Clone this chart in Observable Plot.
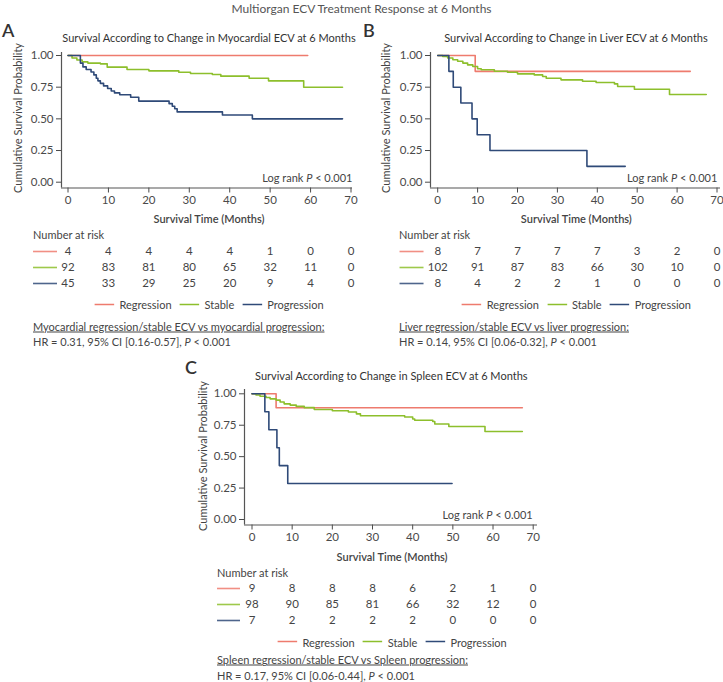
<!DOCTYPE html>
<html><head><meta charset="utf-8">
<script src="https://cdn.jsdelivr.net/npm/d3@7"></script>
<script src="https://cdn.jsdelivr.net/npm/@observablehq/plot@0.6"></script>
<style>
body{margin:0;background:#fff;}
#page{position:relative;width:723px;height:682px;font-family:Lato,"Noto Sans",sans-serif;color:#444;overflow:hidden;background:#fff;}
.t{position:absolute;white-space:nowrap;line-height:1;}
</style></head><body><div id="page"></div>
<script>
// ---------- data ----------
const groups = ["Regression", "Stable", "Progression"];
const groupColors = ["#ee7b6e", "#8dbf2c", "#2f4a78"];
const xTicks = [0, 10, 20, 30, 40, 50, 60, 70];
const yTicks = [0, 0.25, 0.5, 0.75, 1];
const riskTimes = [0, 10, 20, 30, 40, 50, 60, 70];

// Panel A: myocardial
const myoRegressionTime = [0, 59.3];
const myoRegressionSurv = [1, 1];
const myoStableTime = [0, 1, 2.2, 3.5, 4.9, 8, 9.7, 14.6, 20, 27.4, 30.3, 35.7, 37.8, 44.8, 49.6, 58.3, 67.9];
const myoStableSurv = [1, 0.98, 0.965, 0.95, 0.94, 0.934, 0.908, 0.89, 0.879, 0.868, 0.858, 0.85, 0.837, 0.82, 0.80, 0.75, 0.75];
const myoProgressionTime = [0, 3.06, 3.7, 4.5, 5.7, 6.4, 7.0, 7.4, 8.0, 8.8, 9.8, 10.7, 11.5, 12.8, 15.5, 17.5, 25.0, 25.8, 26.4, 27.0, 38.2, 45.6, 67.9];
const myoProgressionSurv = [1, 0.94, 0.91, 0.89, 0.87, 0.847, 0.82, 0.80, 0.78, 0.76, 0.74, 0.72, 0.705, 0.69, 0.67, 0.64, 0.62, 0.60, 0.58, 0.555, 0.53, 0.50, 0.50];
const riskMyoRegression = [4, 4, 4, 4, 4, 1, 0, 0];
const riskMyoStable = [92, 83, 81, 80, 65, 32, 11, 0];
const riskMyoProgression = [45, 33, 29, 25, 20, 9, 4, 0];

// Panel B: liver
const liverRegressionTime = [0, 9.4, 63.3];
const liverRegressionSurv = [1, 0.875, 0.875];
const liverStableTime = [0, 1.25, 2.5, 3.8, 5, 6.3, 7.5, 8.8, 10, 10.9, 14.2, 17.5, 20, 24.2, 26.3, 27.2, 30.9, 36.3, 39.7, 44.3, 45.1, 49.3, 58.1, 67.3];
const liverStableSurv = [1, 0.992, 0.98, 0.966, 0.955, 0.94, 0.926, 0.913, 0.895, 0.887, 0.876, 0.868, 0.855, 0.847, 0.834, 0.82, 0.808, 0.797, 0.787, 0.776, 0.755, 0.734, 0.692, 0.692];
const liverProgressionTime = [0, 2.8, 3.9, 5.8, 8.6, 9.9, 13.1, 37.4, 47.0];
const liverProgressionSurv = [1, 0.875, 0.75, 0.625, 0.5, 0.375, 0.25, 0.125, 0.125];
const riskLiverRegression = [8, 7, 7, 7, 7, 3, 2, 0];
const riskLiverStable = [102, 91, 87, 83, 66, 30, 10, 0];
const riskLiverProgression = [8, 4, 2, 2, 1, 0, 0, 0];

// Panel C: spleen
const spleenRegressionTime = [0, 6.0, 67.3];
const spleenRegressionSurv = [1, 0.889, 0.889];
const spleenStableTime = [0, 1, 2, 3.5, 4.5, 6, 7, 8, 9.5, 11, 13, 15.5, 20, 24, 26, 27, 38, 40, 40.5, 45, 45.5, 49, 58, 67.3];
const spleenStableSurv = [1, 0.99, 0.98, 0.97, 0.96, 0.95, 0.935, 0.92, 0.91, 0.90, 0.89, 0.875, 0.865, 0.855, 0.84, 0.825, 0.815, 0.80, 0.79, 0.78, 0.76, 0.74, 0.70, 0.70];
const spleenProgressionTime = [0, 3.2, 4.2, 6.2, 6.8, 8.9, 49.8];
const spleenProgressionSurv = [1, 0.857, 0.714, 0.571, 0.429, 0.286, 0.286];
const riskSpleenRegression = [9, 8, 8, 8, 6, 2, 1, 0];
const riskSpleenStable = [98, 90, 85, 81, 66, 32, 12, 0];
const riskSpleenProgression = [7, 2, 2, 2, 2, 0, 0, 0];

// ---------- text ----------
const mainTitle = "Multiorgan ECV Treatment Response at 6 Months";
const panelLetters = ["A", "B", "C"];
const panelTitles = [
  "Survival According to Change in Myocardial ECV at 6 Months",
  "Survival According to Change in Liver ECV at 6 Months",
  "Survival According to Change in Spleen ECV at 6 Months"
];
const yAxisLabel = "Cumulative Survival Probability";
const xAxisLabel = "Survival Time (Months)";
const logRankText = "Log rank <i>P</i> &lt; 0.001";
const riskHeader = "Number at risk";
const footFirstLines = [
  "Myocardial regression/stable ECV vs myocardial progression:",
  "Liver regression/stable ECV vs liver progression:",
  "Spleen regression/stable ECV vs Spleen progression:"
];
const footSecondLines = [
  "HR = 0.31, 95% CI [0.16-0.57], <i>P</i> &lt; 0.001",
  "HR = 0.14, 95% CI [0.06-0.32], <i>P</i> &lt; 0.001",
  "HR = 0.17, 95% CI [0.06-0.44], <i>P</i> &lt; 0.001"
];

function curve(group, t, s) { return t.map((x, i) => ({group, time: x, surv: s[i]})); }
function risk(group, n) { return riskTimes.map((x, i) => ({group, time: x, n: n[i]})); }

const panelCurves = [
  [...curve("Regression", myoRegressionTime, myoRegressionSurv), ...curve("Stable", myoStableTime, myoStableSurv), ...curve("Progression", myoProgressionTime, myoProgressionSurv)],
  [...curve("Regression", liverRegressionTime, liverRegressionSurv), ...curve("Stable", liverStableTime, liverStableSurv), ...curve("Progression", liverProgressionTime, liverProgressionSurv)],
  [...curve("Regression", spleenRegressionTime, spleenRegressionSurv), ...curve("Stable", spleenStableTime, spleenStableSurv), ...curve("Progression", spleenProgressionTime, spleenProgressionSurv)]
];
const panelRisk = [
  [...risk("Regression", riskMyoRegression), ...risk("Stable", riskMyoStable), ...risk("Progression", riskMyoProgression)],
  [...risk("Regression", riskLiverRegression), ...risk("Stable", riskLiverStable), ...risk("Progression", riskLiverProgression)],
  [...risk("Regression", riskSpleenRegression), ...risk("Stable", riskSpleenStable), ...risk("Progression", riskSpleenProgression)]
];

// ---------- layout ----------
const layouts = [
  {letterX: 2, letterCY: 30, titleCX: 209, titleCY: 37,
   frame: {l: 61, r: 352, t: 52, b: 187.5}, x0: 67.5, x70: 350.5, y1: 55, y0: 181.7,
   yLabelCX: 17, xLabelCY: 218, logRight: 352.5, logCY: 176.7,
   riskX: 33, riskCY: 234.3, rowCY: 250.7, rowStep: 16.3, swatchEnd: 57,
   legendCY: 304.3, footCY: 325.7},
  {letterX: 363, letterCY: 30, titleCX: 576, titleCY: 37,
   frame: {l: 429.5, r: 719.5, t: 52, b: 187.5}, x0: 436.7, x70: 716, y1: 55, y0: 181.7,
   yLabelCX: 385, xLabelCY: 218, logRight: 717.3, logCY: 176.7,
   riskX: 399, riskCY: 234.3, rowCY: 250.7, rowStep: 16.3, swatchEnd: 423,
   legendCY: 304.3, footCY: 325.7},
  {letterX: 185, letterCY: 367, titleCX: 391.3, titleCY: 375,
   frame: {l: 244, r: 537, t: 388.5, b: 524}, x0: 251.5, x70: 532.7, y1: 392.8, y0: 518.5,
   yLabelCX: 201.7, xLabelCY: 556, logRight: 532.7, logCY: 514.3,
   riskX: 217, riskCY: 572.3, rowCY: 588.3, rowStep: 16.3, swatchEnd: 240,
   legendCY: 641.7, footCY: 659.3}
];

const page = document.getElementById("page");
function addText(html, x, cy, css = {}, anchor = "start") {
  const d = document.createElement("div");
  d.className = "t";
  d.innerHTML = html;
  d.style.left = x + "px";
  d.style.top = cy + "px";
  const tx = anchor === "middle" ? "-50%" : anchor === "end" ? "-100%" : "0";
  d.style.transform = `translate(${tx},-50%)` + (css.rotate ? ` rotate(${css.rotate})` : "");
  for (const k in css) if (k !== "rotate") d.style[k] = css[k];
  page.appendChild(d);
  return d;
}

addText(mainTitle, 361.5, 9, {fontSize: "12px", color: "#555"}, "middle");

const colorScale = {domain: groups, range: groupColors};
const axisColor = "#555";
const fontStack = "Lato, 'Noto Sans', sans-serif";

layouts.forEach((L, i) => {
  const kx = (L.x70 - L.x0) / 70;
  const xDomain = [(L.frame.l - L.x0) / kx, (L.frame.r - L.x0) / kx];
  const ky = L.y0 - L.y1;
  const yDomain = [(L.y0 - L.frame.b) / ky, (L.y0 - L.frame.t) / ky];
  const svgLeft = L.frame.l - 58, svgTop = L.frame.t - 8;
  const svgW = L.frame.r + 6 - svgLeft, svgH = L.frame.b + 24 - svgTop;

  addText(panelLetters[i], L.letterX, L.letterCY, {fontSize: "18px", fontWeight: "600", color: "#333"});
  addText(panelTitles[i], L.titleCX, L.titleCY, {fontSize: "11px", color: "#333"}, "middle");

  const km = Plot.plot({
    width: svgW, height: svgH,
    marginLeft: L.frame.l - svgLeft, marginRight: svgLeft + svgW - L.frame.r,
    marginTop: L.frame.t - svgTop, marginBottom: svgTop + svgH - L.frame.b,
    x: {domain: xDomain, ticks: xTicks, tickSize: 5, tickPadding: 3, label: null},
    y: {domain: yDomain, ticks: yTicks, tickFormat: d3.format(".2f"), tickSize: 5, tickPadding: 3, label: null},
    color: colorScale,
    style: {fontFamily: fontStack, fontSize: "11.5px", color: "#4a4a4a", background: "transparent", overflow: "visible"},
    marks: [
      Plot.ruleX([xDomain[0]], {stroke: axisColor, strokeWidth: 1.2}),
      Plot.ruleY([yDomain[0]], {stroke: axisColor, strokeWidth: 1.2}),
      Plot.line(panelCurves[i], {x: "time", y: "surv", z: "group", stroke: "group", curve: "step-after", strokeWidth: 1.6})
    ]
  });
  km.style.position = "absolute";
  km.style.left = svgLeft + "px";
  km.style.top = svgTop + "px";
  page.appendChild(km);

  addText(yAxisLabel, L.yLabelCX, (L.y1 + L.y0) / 2, {fontSize: "11px", rotate: "-90deg"}, "middle");
  addText(xAxisLabel, (L.x0 + L.x70) / 2, L.xLabelCY, {fontSize: "11px", fontWeight: "600", color: "#444"}, "middle");
  addText(logRankText, L.logRight, L.logCY, {fontSize: "11px"}, "end");

  addText(riskHeader, L.riskX, L.riskCY, {fontSize: "11px"});
  const rh = L.rowStep * 3;
  const rk = Plot.plot({
    width: svgW, height: rh,
    marginLeft: L.frame.l - svgLeft, marginRight: svgLeft + svgW - L.frame.r,
    marginTop: 0, marginBottom: 0,
    x: {domain: xDomain, axis: null},
    y: {type: "band", domain: groups, padding: 0, axis: null},
    color: colorScale,
    style: {fontFamily: fontStack, fontSize: "11.5px", color: "#444", background: "transparent", overflow: "visible"},
    marks: [
      Plot.ruleY(groups, {y: d => d, x1: (L.riskX - L.x0) / kx, x2: (L.swatchEnd - L.x0) / kx, stroke: d => d, strokeWidth: 1.6, strokeOpacity: 0.85}),
      Plot.text(panelRisk[i], {x: "time", y: "group", text: "n", fill: "#444"})
    ]
  });
  rk.style.position = "absolute";
  rk.style.left = svgLeft + "px";
  rk.style.top = (L.rowCY - L.rowStep / 2) + "px";
  page.appendChild(rk);

  // legend
  const lg = document.createElement("div");
  lg.className = "t";
  lg.style.cssText += `left:${(L.x0 + L.x70) / 2}px;top:${L.legendCY}px;transform:translate(-50%,-50%);display:flex;align-items:center;gap:8px;font-size:11px;`;
  groups.forEach((g, j) => {
    const item = document.createElement("span");
    item.style.cssText = "display:flex;align-items:center;gap:5px;";
    item.innerHTML = `<svg width="20" height="4"><line x1="0" x2="20" y1="2" y2="2" stroke="${groupColors[j]}" stroke-width="1.5"/></svg><span>${g}</span>`;
    lg.appendChild(item);
  });
  page.appendChild(lg);

  addText(footFirstLines[i], L.riskX, L.footCY, {fontSize: "11px", textDecoration: "underline"});
  addText(footSecondLines[i], L.riskX, L.footCY + 15.5, {fontSize: "11px"});
});
</script>
</body></html>
